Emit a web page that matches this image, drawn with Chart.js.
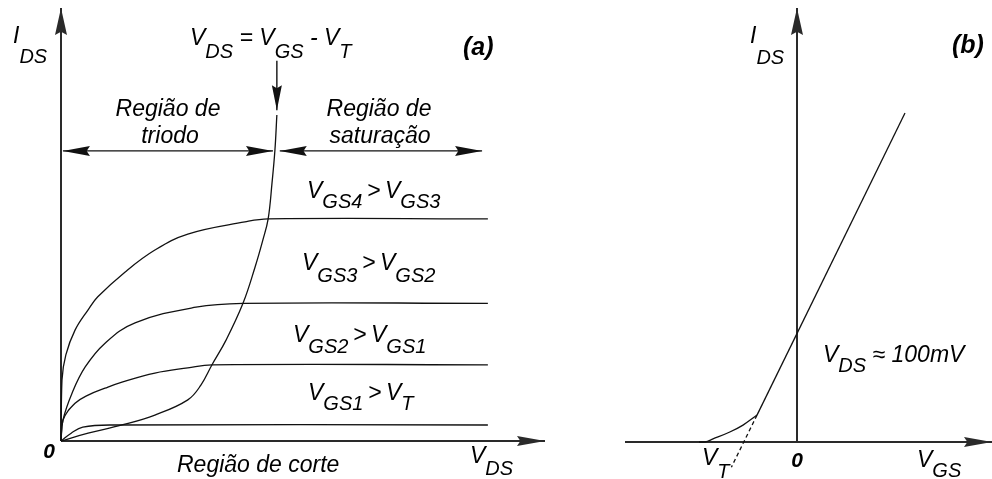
<!DOCTYPE html>
<html>
<head>
<meta charset="utf-8">
<script src="https://cdn.jsdelivr.net/npm/chart.js"></script>
<style>
  html, body { margin: 0; padding: 0; background: #fff; }
  #wrap { position: relative; width: 992px; height: 479px; }
  canvas { position: absolute; top: 0; }
  #chartA { left: 0; }
  #chartB { left: 580px; }
</style>
</head>
<body>
<div id="wrap">
  <canvas id="chartA" width="580" height="479"></canvas>
  <canvas id="chartB" width="412" height="479"></canvas>
</div>
<script>
// (a) I_DS x V_DS, one curve per gate voltage (triode part, then flat saturation)
const vgs1X = [0, 0.21, 0.45, 1.07, 8.82];
const vgs1Y = [0, 0.18, 0.32, 0.37, 0.37];
const vgs2X = [0, 0.04, 0.29, 0.56, 0.91, 1.26, 1.94, 2.62, 3.12, 8.82];
const vgs2Y = [0, 0.48, 0.87, 1.06, 1.22, 1.36, 1.57, 1.69, 1.76, 1.76];
const vgs3X = [0, 0.04, 0.23, 0.50, 0.91, 1.53, 2.79, 3.76, 8.82];
const vgs3Y = [0, 0.48, 1.11, 1.71, 2.26, 2.73, 3.09, 3.18, 3.18];
const vgs4X = [0, 0.02, 0.10, 0.29, 0.56, 0.76, 1.32, 1.94, 2.62, 3.80, 4.28, 8.82];
const vgs4Y = [0, 1.41, 1.99, 2.56, 3.03, 3.33, 3.90, 4.41, 4.78, 5.06, 5.13, 5.13];
// boundary VDS = VGS - VT
const edgeX = [0, 0.56, 1.26, 1.94, 2.62, 2.89, 3.12, 3.41, 3.76, 4.01, 4.17, 4.28, 4.36, 4.42, 4.46];
const edgeY = [0, 0.18, 0.37, 0.60, 0.95, 1.29, 1.76, 2.33, 3.18, 4.02, 4.64, 5.13, 5.96, 6.72, 7.53];
// region markers
const regionArrowY = 6.70;
const triodeSpan = [0.04, 4.38];
const satSpan = [4.52, 8.70];
const edgeArrowX = 4.46;
const edgeArrowY = [8.78, 7.64];

// (b) I_DS x V_GS at small V_DS
const subX = [-2.45, -2.30, -2.10, -1.68, -1.35, -1.00];
const subY = [0, 0, 0.07, 0.23, 0.39, 0.62];
const linX = [-1.00, 2.70];
const linY = [0.62, 7.58];
const extX = [-1.00, -1.64];
const extY = [0.62, -0.58];

const INK = '#111';
const AXIS = '#2a2a2a';
const FONT = '"Liberation Sans", Arial, sans-serif';

function series(xs, ys) {
  return xs.map((x, i) => ({ x: x, y: ys[i] }));
}

function curve(xs, ys, extra) {
  return Object.assign({
    data: series(xs, ys),
    borderColor: INK,
    borderWidth: 1.3,
    pointRadius: 0,
    fill: false,
    clip: false,
    tension: 0.4
  }, extra || {});
}

function arrowHead(ctx, tx, ty, ang, len, w) {
  ctx.save();
  ctx.translate(tx, ty);
  ctx.rotate(ang);
  ctx.beginPath();
  ctx.moveTo(0, 0);
  ctx.lineTo(-len, -w);
  ctx.lineTo(-len * 0.88, 0);
  ctx.lineTo(-len, w);
  ctx.closePath();
  ctx.fill();
  ctx.restore();
}

function arrowLine(ctx, x1, y1, x2, y2, both, len, w) {
  ctx.beginPath();
  ctx.moveTo(x1, y1);
  ctx.lineTo(x2, y2);
  ctx.stroke();
  const a = Math.atan2(y2 - y1, x2 - x1);
  arrowHead(ctx, x2, y2, a, len, w);
  if (both) arrowHead(ctx, x1, y1, a + Math.PI, len, w);
}

// text with subscripts: runs of [text, isSub]
function rich(ctx, x, y, runs, drop) {
  let cx = x;
  for (const [t, s] of runs) {
    ctx.font = 'italic ' + (s ? 20 : 23) + 'px ' + FONT;
    ctx.fillText(t, cx, s ? y + drop : y);
    cx += ctx.measureText(t).width;
  }
}

function plain(ctx, x, y, text, font, align) {
  ctx.font = font;
  ctx.textAlign = align || 'left';
  ctx.fillText(text, x, y);
  ctx.textAlign = 'left';
}

function baseOptions(pad, xr, yr) {
  return {
    responsive: false,
    animation: false,
    devicePixelRatio: 1,
    layout: { padding: pad },
    plugins: { legend: { display: false }, tooltip: { enabled: false } },
    scales: {
      x: { type: 'linear', min: xr[0], max: xr[1], display: false },
      y: { type: 'linear', min: yr[0], max: yr[1], display: false }
    }
  };
}

const GT = '\u2009>\u2009';

const markA = {
  id: 'markA',
  beforeDatasetsDraw(chart) {
    const { ctx, scales: { x, y } } = chart;
    ctx.save();
    ctx.strokeStyle = AXIS;
    ctx.fillStyle = AXIS;
    ctx.lineWidth = 2;
    const ox = x.getPixelForValue(0), oy = y.getPixelForValue(0);
    arrowLine(ctx, ox, oy, ox, y.getPixelForValue(y.max), false, 27, 6);
    arrowLine(ctx, ox, oy, x.getPixelForValue(x.max), oy, false, 28, 5);
    ctx.restore();
  },
  afterDatasetsDraw(chart) {
    const { ctx, scales: { x, y } } = chart;
    ctx.save();
    ctx.strokeStyle = INK;
    ctx.fillStyle = INK;
    ctx.lineWidth = 1.4;
    const ry = y.getPixelForValue(regionArrowY);
    arrowLine(ctx, x.getPixelForValue(triodeSpan[0]), ry, x.getPixelForValue(triodeSpan[1]), ry, true, 27, 5);
    arrowLine(ctx, x.getPixelForValue(satSpan[0]), ry, x.getPixelForValue(satSpan[1]), ry, true, 27, 5);
    const ex = x.getPixelForValue(edgeArrowX);
    arrowLine(ctx, ex, y.getPixelForValue(edgeArrowY[0]), ex, y.getPixelForValue(edgeArrowY[1]), false, 25, 5);

    ctx.fillStyle = '#000';
    rich(ctx, 13, 43, [['I', 0], ['DS', 1]], 20);
    rich(ctx, 190, 45, [['V', 0], ['DS', 1], [' = ', 0], ['V', 0], ['GS', 1], [' - ', 0], ['V', 0], ['T', 1]], 13);
    plain(ctx, 463, 55, '(a)', 'italic bold 25px ' + FONT);
    plain(ctx, 168, 116, 'Região de', 'italic 23px ' + FONT, 'center');
    plain(ctx, 170, 143, 'triodo', 'italic 23px ' + FONT, 'center');
    plain(ctx, 379, 116, 'Região de', 'italic 23px ' + FONT, 'center');
    plain(ctx, 380, 143, 'saturação', 'italic 23px ' + FONT, 'center');
    rich(ctx, 307, 198, [['V', 0], ['GS4', 1], [GT, 0], ['V', 0], ['GS3', 1]], 10);
    rich(ctx, 302, 270, [['V', 0], ['GS3', 1], [GT, 0], ['V', 0], ['GS2', 1]], 12);
    rich(ctx, 293, 342, [['V', 0], ['GS2', 1], [GT, 0], ['V', 0], ['GS1', 1]], 11);
    rich(ctx, 308, 400, [['V', 0], ['GS1', 1], [GT, 0], ['V', 0], ['T', 1]], 10);
    plain(ctx, 49, 458, '0', 'italic bold 21px ' + FONT, 'center');
    plain(ctx, 177, 472, 'Região de corte', 'italic 23px ' + FONT);
    rich(ctx, 470, 463, [['V', 0], ['DS', 1]], 12);
    ctx.restore();
  }
};

const markB = {
  id: 'markB',
  beforeDatasetsDraw(chart) {
    const { ctx, scales: { x, y } } = chart;
    ctx.save();
    ctx.strokeStyle = AXIS;
    ctx.fillStyle = AXIS;
    ctx.lineWidth = 2;
    const ox = x.getPixelForValue(0), oy = y.getPixelForValue(0);
    arrowLine(ctx, ox, oy, ox, y.getPixelForValue(y.max), false, 27, 6);
    arrowLine(ctx, x.getPixelForValue(x.min), oy, x.getPixelForValue(x.max), oy, false, 28, 5);
    ctx.restore();
  },
  afterDatasetsDraw(chart) {
    const { ctx } = chart;
    ctx.save();
    ctx.fillStyle = '#000';
    rich(ctx, 170, 43, [['I', 0], ['DS', 1]], 21);
    plain(ctx, 372, 53, '(b)', 'italic bold 25px ' + FONT);
    rich(ctx, 243, 362, [['V', 0], ['DS', 1], [' ≈ 100mV', 0]], 10);
    rich(ctx, 122, 465, [['V', 0], ['T', 1]], 13);
    plain(ctx, 217, 467, '0', 'italic bold 21px ' + FONT, 'center');
    rich(ctx, 337, 467, [['V', 0], ['GS', 1]], 10);
    ctx.restore();
  }
};

new Chart(document.getElementById('chartA'), {
  type: 'line',
  data: {
    datasets: [
      curve(vgs1X, vgs1Y),
      curve(vgs2X, vgs2Y),
      curve(vgs3X, vgs3Y),
      curve(vgs4X, vgs4Y),
      curve(edgeX, edgeY)
    ]
  },
  options: baseOptions({ left: 61, right: 35, top: 8, bottom: 38 }, [0, 10], [0, 10]),
  plugins: [markA]
});

new Chart(document.getElementById('chartB'), {
  type: 'line',
  data: {
    datasets: [
      curve(subX, subY),
      curve(linX, linY, { tension: 0 }),
      curve(extX, extY, { tension: 0, borderDash: [4, 3] })
    ]
  },
  options: baseOptions({ left: 45, right: 0, top: 8, bottom: 37 }, [-4.3, 4.875], [0, 10]),
  plugins: [markB]
});
</script>
</body>
</html>
